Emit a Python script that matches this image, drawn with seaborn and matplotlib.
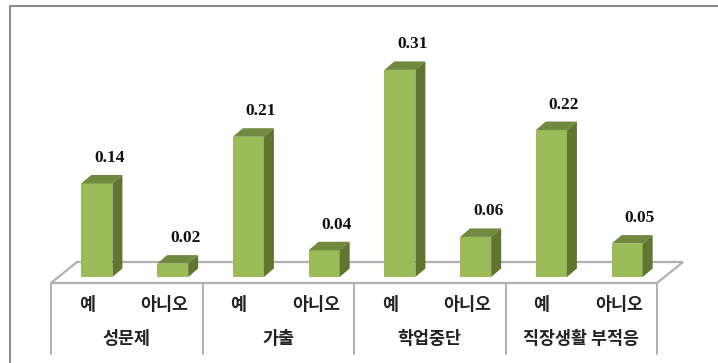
import matplotlib
matplotlib.use("Agg")
import matplotlib.pyplot as plt
from matplotlib.patches import Polygon
import pandas as pd
import seaborn as sns

groups = ["성문제", "가출", "학업중단", "직장생활 부적응"]
answers = ["예", "아니오"]
labels = ["예", "아니오"] * 4
values = [0.14, 0.02, 0.21, 0.04, 0.31, 0.06, 0.22, 0.05]
value_text = ["0.14", "0.02", "0.21", "0.04", "0.31", "0.06", "0.22", "0.05"]

FRONT, TOP, SIDE = "#9BBB59", "#71893F", "#5F7530"
GRAY = "#B0B0B0"
KR = ["Noto Sans CJK KR", "DejaVu Sans"]
W, H = 718, 363

sns.set_theme(style="white")
fig = plt.figure(figsize=(W / 100, H / 100), dpi=100, facecolor="white")
# axes span: px x 59..665 (bars sit 8 px right of their category slots), px y 5..283
ax = fig.add_axes([59 / W, 1 - 283 / H, 606 / W, 278 / H])
px_per_x = 606 / 8
px_per_y = 668.0

df = pd.DataFrame({"pos": [str(i) for i in range(8)], "value": values})
sns.barplot(data=df, x="pos", y="value", color=FRONT, saturation=1, width=0.41,
            ax=ax, zorder=4, linewidth=0)
ax.set_xlim(-0.5, 7.5)
ax.set_ylim(-6 / px_per_y, 272 / px_per_y)
ax.axis("off")

shift = 8 / px_per_x
dx, dy = 10 / px_per_x, 8.5 / px_per_y
fl = -6 / px_per_y
# floor
ax.add_patch(Polygon([(-0.5 - shift, fl), (-0.5 - shift + 26 / px_per_x, fl + 21 / px_per_y),
                      (7.5 - shift + 26 / px_per_x, fl + 21 / px_per_y), (7.5 - shift, fl)],
                     closed=True, facecolor="white", edgecolor=GRAY, lw=1.6,
                     clip_on=False, zorder=1))

for bar, txt in zip(ax.patches[:8], value_text):
    x0, w, h = bar.get_x(), bar.get_width(), bar.get_height()
    x1 = x0 + w
    ax.add_patch(Polygon([(x0, h), (x0 + dx, h + dy), (x1 + dx, h + dy), (x1, h)],
                         facecolor=TOP, edgecolor="none", zorder=4, clip_on=False))
    ax.add_patch(Polygon([(x1, 0), (x1 + dx, dy), (x1 + dx, h + dy), (x1, h)],
                         facecolor=SIDE, edgecolor="none", zorder=4, clip_on=False))
    ax.text(x0 + w / 2 + 12.5 / px_per_x, h + 25.5 / px_per_y, txt, ha="center", va="center",
            family="Liberation Serif", fontweight="bold", fontsize=12.5,
            color="#111111", zorder=5)

# multi-level category axis, drawn below the floor with blended coordinates
trans = ax.get_xaxis_transform()
def ypx(p):
    return (283 - p) / 278
for i in range(5):
    x = -0.5 - shift + 2 * i
    ax.plot([x, x], [ypx(283), ypx(354)], color=GRAY, lw=1.4, transform=trans,
            clip_on=False, zorder=2)
for i, lab in enumerate(labels):
    ax.text(i - shift + (-2 / px_per_x if lab == answers[0] else 0), ypx(305), lab,
            transform=trans, ha="center", va="center",
            family=KR, fontsize=12.5, fontweight="bold", color="#222222")
for i, g in enumerate(groups):
    ax.text(0.5 - shift + 2 * i, ypx(339), g, transform=trans, ha="center", va="center",
            family=KR, fontsize=12.5, fontweight="bold", color="#222222")

# outer chart frame: left and top edges only reach the picture's edge
fig.add_artist(plt.Line2D([9.5 / W, 9.5 / W, 1], [0, 1 - 5.5 / H, 1 - 5.5 / H],
                          color="#8C8C8C", lw=1.5, transform=fig.transFigure))

fig.savefig("out.png", dpi=100)
